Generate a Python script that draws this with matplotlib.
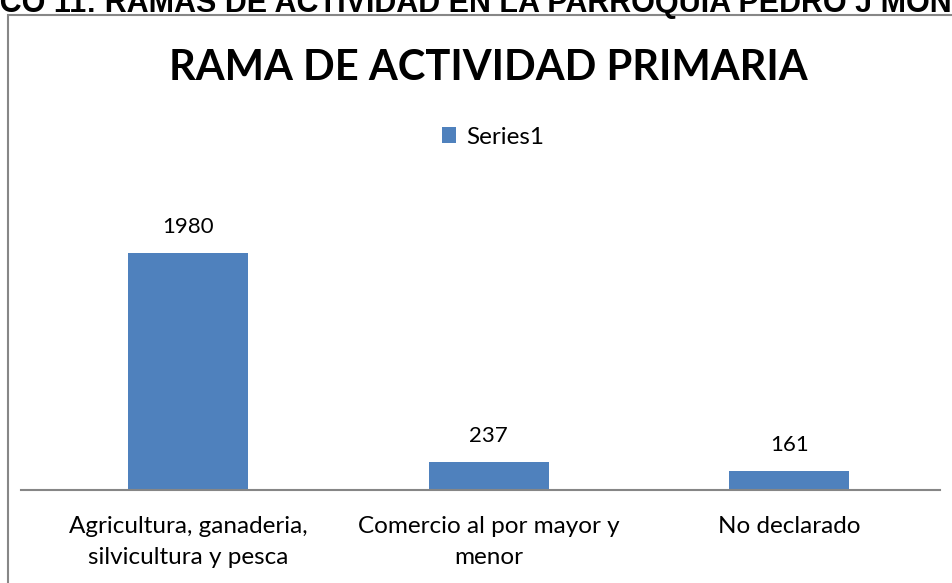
import matplotlib
matplotlib.use("Agg")
import matplotlib.pyplot as plt
from matplotlib.patches import Rectangle

# data
categories = ["Agricultura, ganaderia,\nsilvicultura y pesca",
              "Comercio al por mayor y\nmenor",
              "No declarado"]
values = [1980, 237, 161]
series_name = "Series1"
chart_title = "RAMA DE ACTIVIDAD PRIMARIA"
page_caption = "GRÁFICO 11: RAMAS DE ACTIVIDAD EN LA PARROQUIA PEDRO J MONTERO"

W, H = 953, 583
bar_color = "#4F81BD"
font = ["Lato", "DejaVu Sans"]

fig = plt.figure(figsize=(W / 100, H / 100), dpi=100)

# axes placed in pixel terms
left, right, bottom, top = 21, 940, 490, 191
ax = fig.add_axes([left / W, (H - bottom) / H, (right - left) / W, (bottom - top) / H])

x = list(range(len(categories)))
bars = ax.bar(x, values, width=0.4, color=bar_color, label=series_name, zorder=2)
ax.set_xlim(-0.556, 2.502)
ax.set_ylim(0, 2500)

for b, v in zip(bars, values):
    ax.annotate(str(v), (b.get_x() + b.get_width() / 2, v), xytext=(0, 18.5),
                textcoords="offset points", ha="center", va="center",
                fontsize=16, family=font, color="#000000")

ax.set_xticks(x)
ax.set_xticklabels(categories, fontsize=17.5, family=font, linespacing=1.55)
ax.tick_params(axis="x", length=0, pad=19)
ax.set_yticks([])
for s in ["top", "right", "left"]:
    ax.spines[s].set_visible(False)
ax.spines["bottom"].set_color("#868686")
ax.spines["bottom"].set_linewidth(1.5)

# chart title and legend
fig.text(488 / W, 1 - 68 / H, chart_title, ha="center", va="center",
         fontsize=30, fontweight="bold", family=font)
fig.legend(handles=[bars], labels=[series_name], loc="center",
           bbox_to_anchor=(493 / W, 1 - 137 / H), frameon=False,
           prop={"family": font, "size": 17.5},
           handlelength=0.6, handleheight=0.6, handletextpad=0.4)

# chart frame (runs off the right and bottom)
fig.patches.append(Rectangle((8 / W, -0.1), 2, (H - 15) / H + 0.1,
                             transform=fig.transFigure, fill=False,
                             ec="#878787", lw=1.5))

# page caption cut off at the top
cap = fig.text(0, 1 - 12 / H, page_caption, ha="left", va="baseline",
               fontsize=22, fontweight="bold", family="Liberation Sans")
fig.canvas.draw()
r = fig.canvas.get_renderer()
pre = fig.text(0, 0, "GRÁFI", fontsize=22, fontweight="bold", family="Liberation Sans")
pw = pre.get_window_extent(r).width
pre.remove()
cap.set_x(-pw / W)

fig.savefig("out.png", dpi=100)
